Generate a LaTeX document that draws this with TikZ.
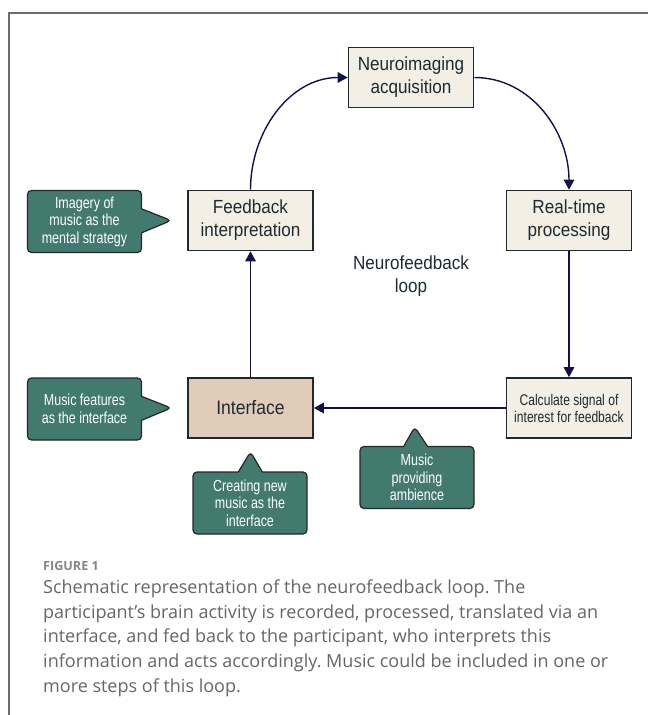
\documentclass[tikz,border=0pt]{standalone}
\usepackage{fontspec}
\usepackage{xcolor}
\usetikzlibrary{arrows.meta, calc, shapes.callouts, positioning}

\newfontfamily\diagfont[FakeStretch=0.9]{Liberation Sans}
\newfontfamily\notefont[FakeStretch=0.78]{Liberation Sans}
\newfontfamily\capfont{Open Sans}
\frenchspacing

\definecolor{cream}{HTML}{F3EFE4}
\definecolor{tan}{HTML}{E0CCB9}
\definecolor{boxedge}{HTML}{1C2B33}
\definecolor{teal}{HTML}{427A70}
\definecolor{navy}{HTML}{12114A}
\definecolor{framegray}{HTML}{6C6C6C}
\definecolor{capgray}{HTML}{666666}

\tikzset{
  stepbox/.style={draw=boxedge, line width=1.6pt, fill=cream, text=boxedge,
    minimum width=125pt, minimum height=60pt, inner sep=2pt, align=center,
    font=\diagfont\fontsize{19}{23}\selectfont},
  note/.style={rectangle callout, callout pointer width=24pt, draw=black!85,
    line width=1.2pt, fill=teal, rounded corners=4pt, text=white,
    minimum width=114pt, minimum height=62pt, inner sep=2pt, align=center,
    font=\notefont\fontsize{16}{17.5}\selectfont},
  flow/.style={draw=navy, line width=1.4pt, -{Triangle[length=10pt,width=10.5pt]}}
}

\begin{document}
\begin{tikzpicture}[x=1pt,y=-1pt]
    \useasboundingbox (0,0) rectangle (648,715);
    \draw[framegray, line width=1.3pt] (9,715) -- (9,13) -- (648,13);
    \node[stepbox] (acq) at (411,77.5) {Neuroimaging\\acquisition};
    \node[stepbox] (fb) at (250.5,220.5) {Feedback\\interpretation};
    \node[stepbox] (rt) at (569,220.5) {Real-time\\processing};
    \node[stepbox, fill=tan, font=\diagfont\fontsize{19.5}{24}\selectfont] (ifc) at (250.5,408) {Interface};
    \node[stepbox, font=\notefont\fontsize{15.5}{17}\selectfont] (calc) at (569,408) {Calculate signal of\\interest for feedback};
    \node[font=\diagfont\fontsize{19}{23}\selectfont, text=boxedge, align=center] (loop) at (411,276) {Neurofeedback\\loop};
    \draw[flow] (fb.north) to[out=90,in=180] (acq.west);
    \draw[flow] (acq.east) to[out=0,in=90] (rt.north);
    \draw[flow] (rt.south) -- (calc.north);
    \draw[flow] (calc.west) -- (ifc.east);
    \draw[flow] (ifc.north) -- (fb.south);
    \node[note, callout absolute pointer={($(fb.west)+(-16,0)$)}] (imag) at (84.5,221.5) {Imagery of\\music as the\\mental strategy};
    \node[note, callout absolute pointer={($(ifc.west)+(-16,0)$)}] (feat) at (84.5,409) {Music features\\as the interface};
    \node[note, callout absolute pointer={($(ifc.south)+(0,13)$)}] (create) at (250,503) {Creating new\\music as the\\interface};
    \node[note, callout absolute pointer={($(ifc.east)!0.526!(calc.west)+(0,19)$)}] (amb) at (417,477.5) {Music\\providing\\ambience};
    \node[anchor=base west, inner sep=0pt, text=capgray!80, font=\capfont\bfseries\fontsize{12.6}{15}\selectfont] (fig) at (43,570) {FIGURE 1};
    \node[anchor=north west, inner sep=0pt, align=left, text=capgray, font=\capfont\fontsize{18}{24.75}\selectfont] (cap) at (43,579.5) {Schematic representation of the neurofeedback loop. The\\participant’s brain activity is recorded, processed, translated via an\\interface, and fed back to the participant, who interprets this\\information and acts accordingly. Music could be included in one or\\more steps of this loop.};
\end{tikzpicture}
\end{document}
